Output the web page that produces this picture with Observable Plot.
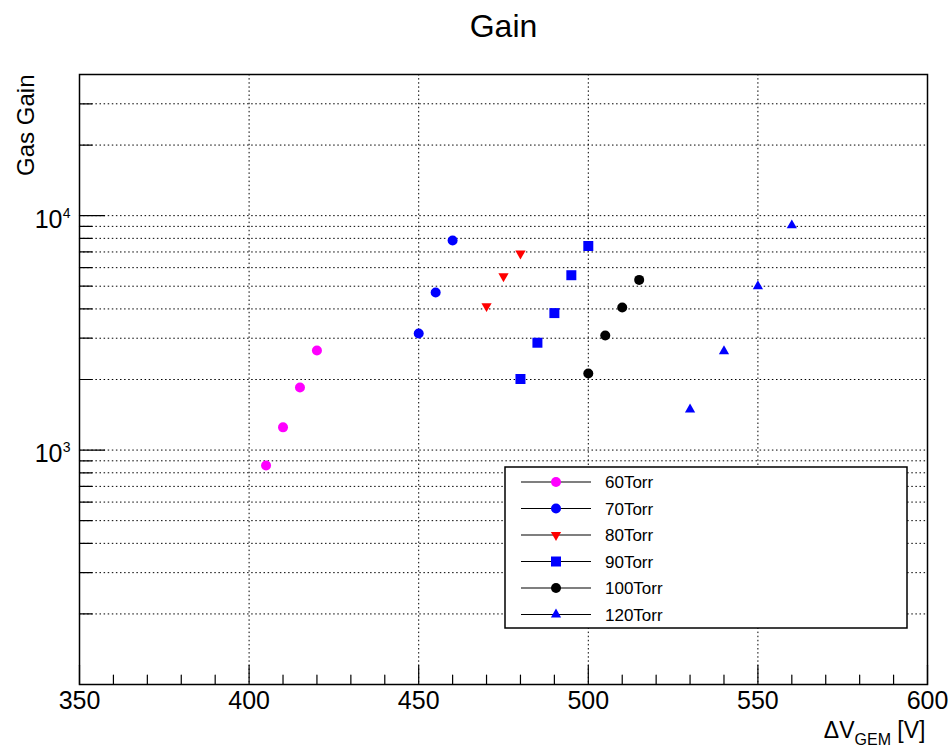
<!DOCTYPE html>
<html>
<head>
<meta charset="utf-8">
<script src="https://cdn.jsdelivr.net/npm/d3@7"></script>
<script src="https://cdn.jsdelivr.net/npm/@observablehq/plot@0.6"></script>
<style>
  body { margin: 0; background: white; }
  #chart svg { display: block; }
</style>
</head>
<body>
<div id="chart"></div>
<script>
// ---- data ----
const seriesNames = ["60Torr", "70Torr", "80Torr", "90Torr", "100Torr", "120Torr"];
const seriesColors = ["#ff00ff", "#0000ff", "#ff0000", "#0000ff", "#000000", "#0000ff"];
const seriesSymbols = ["circle", "circle", "triangle-down", "square", "circle", "triangle"];

const v60 = [405, 410, 415, 420];
const g60 = [860, 1250, 1850, 2660];
const v70 = [450, 455, 460];
const g70 = [3140, 4700, 7830];
const v80 = [470, 475, 480];
const g80 = [4110, 5510, 6890];
const v90 = [480, 485, 490, 495, 500];
const g90 = [2010, 2870, 3840, 5570, 7420];
const v100 = [500, 505, 510, 515];
const g100 = [2120, 3080, 4060, 5320];
const v120 = [530, 540, 550, 560];
const g120 = [1490, 2640, 5000, 9090];

const xTicksMajor = [350, 400, 450, 500, 550, 600];
const xTicksMinor = [360, 370, 380, 390, 410, 420, 430, 440, 460, 470, 480, 490, 510, 520, 530, 540, 560, 570, 580, 590];
const xGrid = [400, 450, 500, 550];
const yDecades = [1000, 10000];
const yExponents = ["3", "4"];
const yMinor = [200, 300, 400, 500, 600, 700, 800, 900, 2000, 3000, 4000, 5000, 6000, 7000, 8000, 9000, 20000, 30000];
const yGrid = [200, 300, 400, 500, 600, 700, 800, 900, 1000, 2000, 3000, 4000, 5000, 6000, 7000, 8000, 9000, 10000, 20000, 30000];

const titleText = "Gain";
const yLabelText = "Gas Gain";
const xLabelParts = ["\u0394V", "GEM", " [V]"];

// ---- build table ----
const vs = [v60, v70, v80, v90, v100, v120];
const gs = [g60, g70, g80, g90, g100, g120];
const table = [];
seriesNames.forEach((s, i) => vs[i].forEach((v, j) => table.push({series: s, idx: i, v, g: gs[i][j]})));

const font = "'Liberation Sans', Arial, Helvetica, sans-serif";
const line = {draw(ctx, l) { ctx.moveTo(0, 0); ctx.lineTo(0, -l); }};

function symbolOpts(i) {
  const s = seriesSymbols[i];
  if (s === "circle") return {symbol: "circle", r: 5};
  if (s === "square") return {symbol: "square", r: 5.64};
  if (s === "triangle") return {symbol: "triangle", r: 3.8};
  return {symbol: "triangle", r: 3.8, rotate: 180};
}

const dotMarks = seriesNames.map((s, i) =>
  Plot.dot(table.filter(d => d.idx === i), {
    x: "v", y: "g", fill: seriesColors[i], stroke: "none", ...symbolOpts(i)
  })
);

const gridStyle = {stroke: "black", strokeWidth: 1, strokeDasharray: "1.5,2.6"};

const plot = Plot.plot({
  width: 950,
  height: 751,
  marginLeft: 79,
  marginRight: 23,
  marginTop: 74,
  marginBottom: 67,
  style: {fontFamily: font, background: "white", color: "black", overflow: "visible"},
  x: {domain: [350, 600], axis: null},
  y: {type: "log", domain: [100, 40000], axis: null},
  marks: [
    Plot.ruleY(yGrid, {y: d => d, ...gridStyle}),
    Plot.ruleX(xGrid, {x: d => d, ...gridStyle}),
    ...dotMarks,
    // ticks
    Plot.vector(xTicksMajor, {x: d => d, frameAnchor: "bottom", length: 19, rotate: 0, anchor: "start", shape: line, stroke: "black", strokeWidth: 1.2}),
    Plot.vector(xTicksMinor, {x: d => d, frameAnchor: "bottom", length: 9.5, rotate: 0, anchor: "start", shape: line, stroke: "black", strokeWidth: 1.2}),
    Plot.vector(yDecades, {y: d => d, frameAnchor: "left", length: 25, rotate: 90, anchor: "start", shape: line, stroke: "black", strokeWidth: 1.2}),
    Plot.vector(yMinor, {y: d => d, frameAnchor: "left", length: 12.5, rotate: 90, anchor: "start", shape: line, stroke: "black", strokeWidth: 1.2}),
    Plot.frame({stroke: "black", strokeWidth: 1.5}),
    // tick labels
    Plot.text(xTicksMajor, {x: d => d, text: d => String(d), frameAnchor: "bottom", dy: 24, lineAnchor: "bottom", fontSize: 25, fill: "black"}),
    Plot.text(yDecades, {y: d => d, text: () => "10", frameAnchor: "left", dx: -17, dy: 12, textAnchor: "end", lineAnchor: "bottom", fontSize: 25, fill: "black"}),
    Plot.text(yDecades, {y: d => d, text: (d, i) => yExponents[i], frameAnchor: "left", dx: -9, dy: 2, textAnchor: "end", lineAnchor: "bottom", fontSize: 14, fill: "black"}),
    // titles
    Plot.text([titleText], {text: d => d, frameAnchor: "top", dy: -38, lineAnchor: "bottom", fontSize: 32, fill: "black"}),
    Plot.text([yLabelText], {text: d => d, frameAnchor: "top-left", dx: -46, rotate: -90, textAnchor: "end", lineAnchor: "bottom", fontSize: 24, fill: "black"}),
    Plot.text([xLabelParts.join("")], {text: d => d, frameAnchor: "bottom-right", dx: -2, dy: 53, textAnchor: "end", lineAnchor: "bottom", fontSize: 23, fill: "black"})
  ]
});

document.getElementById("chart").appendChild(plot);

// subscript in x label
const joined = xLabelParts.join("");
d3.select(plot).selectAll("text").filter(function() { return this.textContent === joined; }).each(function() {
  const xl = d3.select(this);
  xl.text(null);
  xl.append("tspan").text(xLabelParts[0]);
  xl.append("tspan").attr("dy", 7).attr("font-size", 16).text(xLabelParts[1]);
  xl.append("tspan").attr("dy", -7).text(xLabelParts[2]);
});

// legend
const lg = d3.select(plot).append("g").attr("font-family", font).attr("text-anchor", "start");
const lx = 505, ly = 467, lw = 402, lh = 161;
lg.append("rect").attr("x", lx).attr("y", ly).attr("width", lw).attr("height", lh)
  .attr("fill", "white").attr("stroke", "black").attr("stroke-width", 1.5);
const sym = {
  "circle": d3.symbol(d3.symbolCircle, Math.PI * 25),
  "square": d3.symbol(d3.symbolSquare, Math.PI * 5.64 * 5.64),
  "triangle": d3.symbol(d3.symbolTriangle, Math.PI * 3.8 * 3.8),
  "triangle-down": d3.symbol(d3.symbolTriangle, Math.PI * 3.8 * 3.8)
};
seriesNames.forEach((s, i) => {
  const cy = 482 + i * 26.5;
  const row = lg.append("g");
  row.append("line").attr("x1", 521).attr("x2", 591).attr("y1", cy).attr("y2", cy)
    .attr("stroke", "black").attr("stroke-width", 1.2);
  row.append("path").attr("d", sym[seriesSymbols[i]]())
    .attr("transform", `translate(556,${cy})` + (seriesSymbols[i] === "triangle-down" ? " rotate(180)" : ""))
    .attr("fill", seriesColors[i]);
  row.append("text").attr("x", 605).attr("y", cy + 6).attr("font-size", 17).attr("fill", "black")
    .attr("text-anchor", "start").text(s);
});
</script>
</body>
</html>
